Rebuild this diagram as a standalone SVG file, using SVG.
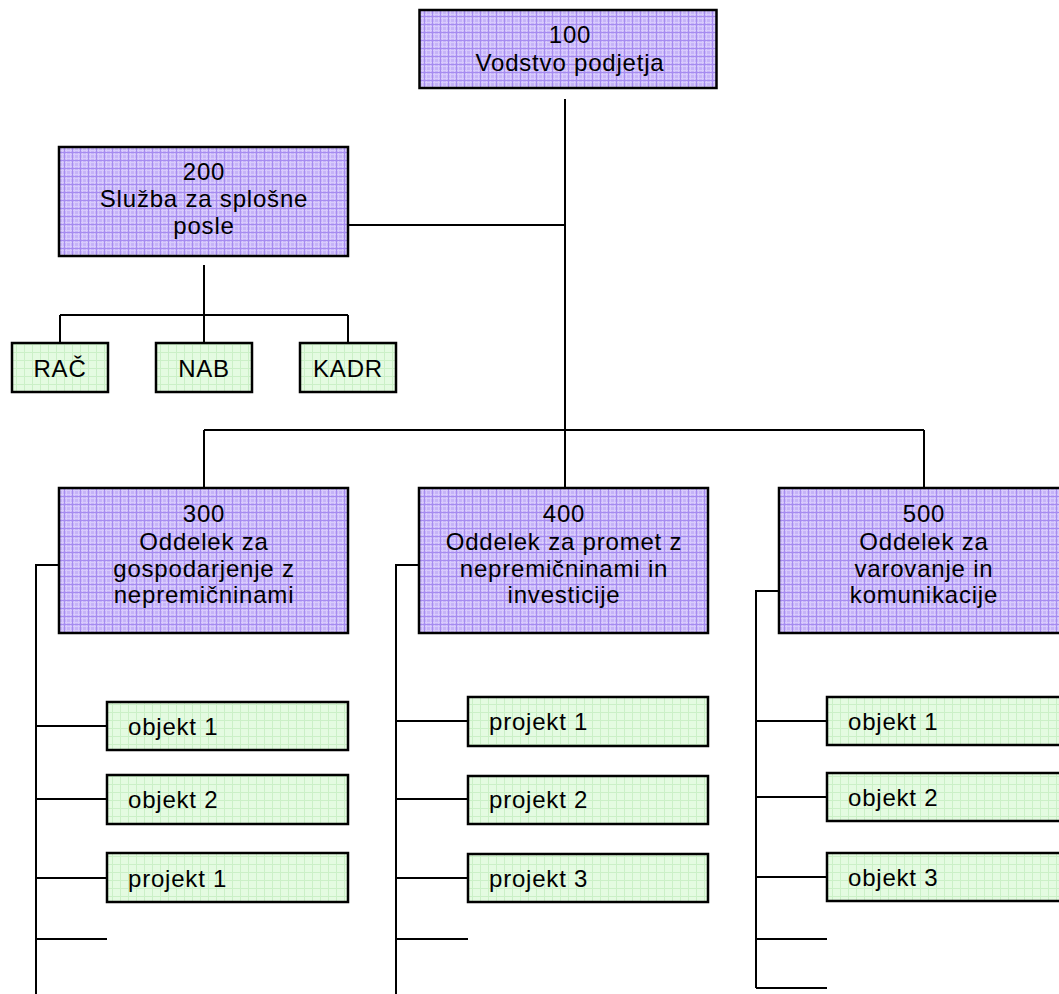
<svg xmlns="http://www.w3.org/2000/svg" width="1059" height="994" viewBox="0 0 1059 994">
  <defs>
    <!-- lavender grid fill for department boxes -->
    <pattern id="gridPurple" patternUnits="userSpaceOnUse" width="8" height="8">
      <rect width="8" height="8" fill="#c6b4f8"/>
      <path d="M0 2.5H8M0 6.5H8M2.5 0V8M6.5 0V8" stroke="#d8cbfc" stroke-width="1"/>
      <path d="M0 0.5H8M0.5 0V8" stroke="#a68cf0" stroke-width="1"/>
    </pattern>
    <!-- light green grid fill for unit boxes -->
    <pattern id="gridGreen" patternUnits="userSpaceOnUse" width="8" height="8">
      <rect width="8" height="8" fill="#e4fbe1"/>
      <path d="M0 0.5H8M0.5 0V8" stroke="#cbf0c7" stroke-width="1"/>
    </pattern>
  </defs>
  <style>
    .dept { fill: url(#gridPurple); stroke: #000; stroke-width: 2.5; }
    .unit { fill: url(#gridGreen); stroke: #000; stroke-width: 2.5; }
    .wire { fill: none; stroke: #000; stroke-width: 2; }
    text { font-family: "Liberation Sans", Arial, sans-serif; font-size: 24px; letter-spacing: 0.8px; fill: #000; }
    .c { text-anchor: middle; }
  </style>

  <g id="connectors" class="wire">
    <!-- trunk from management -->
    <path d="M565 99V488"/>
    <path d="M348 225H565"/>
    <!-- general services branch -->
    <path d="M204 265V315M60 315H348M60 315V343M204 315V343M348 315V343"/>
    <!-- departments bar -->
    <path d="M204 430H924M204 430V488M924 430V488"/>
    <!-- department 300 rail -->
    <path d="M59 565H36V994"/>
    <path d="M36 726H107M36 799H107M36 878H107M36 939H107"/>
    <!-- department 400 rail -->
    <path d="M419 565H396V994"/>
    <path d="M396 721H468M396 799H468M396 878H468M396 939H468"/>
    <!-- department 500 rail -->
    <path d="M779 591H756V988"/>
    <path d="M756 721H827M756 797H827M756 877H827M756 939H827M756 988H827"/>
  </g>

  <g id="n100">
    <rect class="dept" x="419.5" y="10" width="297" height="78"/>
    <text class="c" x="570" y="43">100</text>
    <text class="c" x="570" y="71">Vodstvo podjetja</text>
  </g>

  <g id="n200">
    <rect class="dept" x="59" y="147" width="289" height="109"/>
    <text class="c" x="204" y="180">200</text>
    <text class="c" x="204" y="207">Služba za splošne</text>
    <text class="c" x="204" y="234">posle</text>
  </g>

  <g id="rac">
    <rect class="unit" x="12" y="343" width="96" height="49"/>
    <text class="c" x="60" y="377">RAČ</text>
  </g>
  <g id="nab">
    <rect class="unit" x="156" y="343" width="96" height="49"/>
    <text class="c" x="204" y="377">NAB</text>
  </g>
  <g id="kadr">
    <rect class="unit" x="300" y="343" width="96" height="49"/>
    <text class="c" x="348" y="377">KADR</text>
  </g>

  <g id="n300">
    <rect class="dept" x="59" y="488" width="289" height="145"/>
    <text class="c" x="204" y="522">300</text>
    <text class="c" x="204" y="550">Oddelek za</text>
    <text class="c" x="204" y="577">gospodarjenje z</text>
    <text class="c" x="204" y="603">nepremičninami</text>
  </g>

  <g id="n400">
    <rect class="dept" x="419" y="488" width="289" height="145"/>
    <text class="c" x="564" y="522">400</text>
    <text class="c" x="564" y="550">Oddelek za promet z</text>
    <text class="c" x="564" y="577">nepremičninami in</text>
    <text class="c" x="564" y="603">investicije</text>
  </g>

  <g id="n500">
    <rect class="dept" x="779" y="488" width="288" height="145"/>
    <text class="c" x="924" y="522">500</text>
    <text class="c" x="924" y="550">Oddelek za</text>
    <text class="c" x="924" y="577">varovanje in</text>
    <text class="c" x="924" y="603">komunikacije</text>
  </g>

  <g id="n300-objekt1">
    <rect class="unit" x="107" y="702" width="241" height="48"/>
    <text x="128" y="735">objekt 1</text>
  </g>
  <g id="n300-objekt2">
    <rect class="unit" x="107" y="775" width="241" height="49"/>
    <text x="128" y="808">objekt 2</text>
  </g>
  <g id="n300-projekt1">
    <rect class="unit" x="107" y="853" width="241" height="49"/>
    <text x="128" y="887">projekt 1</text>
  </g>

  <g id="n400-projekt1">
    <rect class="unit" x="468" y="697" width="240" height="49"/>
    <text x="489" y="730">projekt 1</text>
  </g>
  <g id="n400-projekt2">
    <rect class="unit" x="468" y="776" width="240" height="48"/>
    <text x="489" y="808">projekt 2</text>
  </g>
  <g id="n400-projekt3">
    <rect class="unit" x="468" y="854" width="240" height="48"/>
    <text x="489" y="887">projekt 3</text>
  </g>

  <g id="n500-objekt1">
    <rect class="unit" x="827" y="697" width="240" height="48"/>
    <text x="848" y="730">objekt 1</text>
  </g>
  <g id="n500-objekt2">
    <rect class="unit" x="827" y="773" width="240" height="48"/>
    <text x="848" y="806">objekt 2</text>
  </g>
  <g id="n500-objekt3">
    <rect class="unit" x="827" y="853" width="240" height="48"/>
    <text x="848" y="886">objekt 3</text>
  </g>
</svg>
